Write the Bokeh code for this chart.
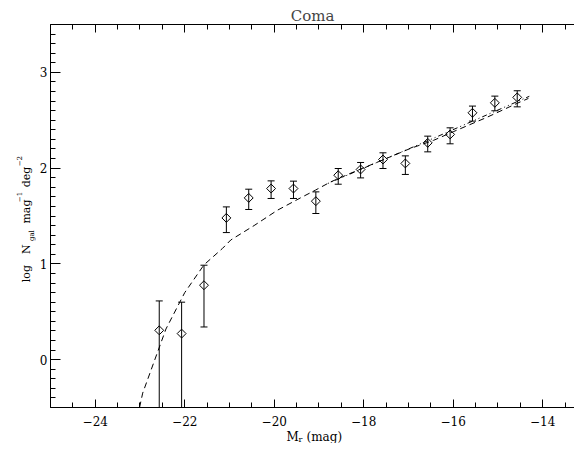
import numpy as np
from bokeh.plotting import figure
from bokeh.layouts import column, row
from bokeh.models import LinearAxis, Range1d, FixedTicker
from bokeh.core.properties import value
from bokeh.embed import file_html
from bokeh.resources import INLINE

# ---- data ----
mag = [-22.57, -22.07, -21.57, -21.07, -20.57, -20.07, -19.57, -19.07, -18.57,
       -18.07, -17.57, -17.07, -16.57, -16.07, -15.57, -15.07, -14.57]
logn = [0.306, 0.272, 0.777, 1.480, 1.689, 1.787, 1.787, 1.655, 1.926,
        1.986, 2.090, 2.049, 2.264, 2.352, 2.578, 2.682, 2.739]
logn_hi = [0.613, 0.600, 0.986, 1.595, 1.780, 1.867, 1.864, 1.752, 1.996,
           2.059, 2.160, 2.128, 2.334, 2.421, 2.648, 2.752, 2.808]
logn_lo = [float("-inf"), float("-inf"), 0.341, 1.327, 1.568, 1.683, 1.683, 1.526, 1.832,
           1.898, 1.996, 1.934, 2.170, 2.254, 2.491, 2.599, 2.640]

# dashed fit curve
fit_mag = [-23.01, -22.94, -22.42, -22.00, -21.57, -21.16, -20.97, -20.45, -19.93,
           -19.41, -19.08, -18.74, -18.22, -17.55, -16.96, -16.44, -16.00, -15.25,
           -14.58, -14.32]
fit_log = [-0.50, -0.35, 0.32, 0.70, 0.99, 1.16, 1.25, 1.40, 1.56,
           1.69, 1.77, 1.856, 1.961, 2.09, 2.205, 2.29, 2.38, 2.53,
           2.675, 2.728]
# dotted faint-end fit
pl_mag = [-18.80, -16.50, -14.30]
pl_log = [1.84, 2.30, 2.75]

x_ticks = [-24, -22, -20, -18, -16, -14]
y_ticks = [0, 1, 2, 3]
title_text = "Coma"

FONT = "DejaVu Serif"
X0, X1 = -25.0, -13.29
Y0, Y1 = -0.5, 3.5

W, H = 574, 443
YL_W = 36      # width of y-label strip
XL_H = 15      # height of x-label strip
MAIN_H = H - XL_H

def bare(fig):
    fig.outline_line_color = None
    fig.grid.visible = False
    fig.background_fill_color = "white"
    fig.border_fill_color = "white"
    return fig

p = bare(figure(width=W - YL_W, height=MAIN_H, output_backend="svg", toolbar_location=None,
                x_range=Range1d(X0, X1), y_range=Range1d(Y0, Y1),
                x_axis_type=None, y_axis_type=None,
                min_border_left=49 - YL_W, min_border_right=0,
                min_border_top=24, min_border_bottom=MAIN_H - 407))
p.title.text = title_text
p.title.text_font = FONT
p.title.text_font_size = "15px"
p.title.text_font_style = "normal"
p.title.align = "center"
p.title.standoff = 0
p.title.offset = 0

def style_axis(ax, major_in, minor_in, nminor, ticks, labels=True, line=True):
    ax.ticker = FixedTicker(ticks=ticks, minor_ticks=nminor)
    ax.major_tick_in = major_in
    ax.major_tick_out = 0
    ax.minor_tick_in = minor_in
    ax.minor_tick_out = 0
    ax.major_tick_line_color = "black"
    ax.minor_tick_line_color = "black"
    ax.axis_line_color = "black" if line else None
    ax.major_label_text_font = FONT
    ax.major_label_text_font_size = "12px"
    ax.major_label_text_color = "black"
    if not labels:
        ax.major_label_overrides = {t: "" for t in ticks}
        ax.major_label_text_font_size = "0px"
        ax.major_label_standoff = 0

xminor = list(np.arange(-25, -13.0, 0.5))
yminor = list(np.round(np.arange(-0.5, 3.51, 0.1), 2))

bx = LinearAxis()
style_axis(bx, 8, 5, xminor, x_ticks)
bx.major_label_overrides = {t: "\u2212" + str(abs(t)) for t in x_ticks}
bx.major_label_standoff = 8
p.add_layout(bx, "below")

tx = LinearAxis()
style_axis(tx, 8, 5, xminor, x_ticks, labels=False)
p.add_layout(tx, "above")

ly = LinearAxis()
style_axis(ly, 10, 5, yminor, y_ticks)
ly.major_label_standoff = 3
p.add_layout(ly, "left")

# curves
p.line(fit_mag, fit_log, line_color="black", line_width=1, line_dash="6 4")
p.line(pl_mag, pl_log, line_color="black", line_width=1, line_dash="1 3 1 3 5 3")

# error bars
lo_draw = [v if np.isfinite(v) else Y0 - 1 for v in logn_lo]
p.segment(mag, lo_draw, mag, logn_hi, line_color="black", line_width=1)
p.scatter(mag, logn_hi, marker="dash", size=7, line_color="black", line_width=1)
cap_x = [m for m, v in zip(mag, logn_lo) if np.isfinite(v)]
cap_y = [v for v in logn_lo if np.isfinite(v)]
p.scatter(cap_x, cap_y, marker="dash", size=7, line_color="black", line_width=1)
# diamonds
p.scatter(mag, logn, marker="square", angle=np.pi / 4, size=6.3,
          line_color="black", line_width=1, fill_color=None)

# ---- y-axis label strip (page-pixel coordinates, y measured upward) ----
yl = bare(figure(width=YL_W, height=MAIN_H, output_backend="svg", toolbar_location=None,
                 x_range=Range1d(0, YL_W), y_range=Range1d(0, MAIN_H),
                 x_axis_type=None, y_axis_type=None,
                 min_border_left=0, min_border_right=0, min_border_top=0, min_border_bottom=0))

def ytext(fig, txt, px, py, size):
    fig.text(x=[px], y=[MAIN_H - py], text=[txt], angle=np.pi / 2,
             text_font=value(FONT), text_font_size=value(size), text_color="black",
             text_align="left", text_baseline="alphabetic")

ytext(yl, "log", 26, 288, "11px")
ytext(yl, "N", 26, 256.5, "11px")
ytext(yl, "gal", 31.5, 242, "7px")
ytext(yl, "mag", 26, 222.5, "11px")
ytext(yl, "\u22121", 18.5, 198.5, "7px")
ytext(yl, "deg", 26, 182, "11px")
ytext(yl, "\u22122", 18.5, 158.5, "7px")

# ---- x-axis label strip (page-pixel coordinates) ----
xl = bare(figure(width=W, height=XL_H, output_backend="svg", toolbar_location=None,
                 x_range=Range1d(0, W), y_range=Range1d(0, XL_H),
                 x_axis_type=None, y_axis_type=None,
                 min_border_left=0, min_border_right=0, min_border_top=0, min_border_bottom=0))

def xtext(fig, txt, px, py, size):
    fig.text(x=[px], y=[H - py], text=[txt],
             text_font=value(FONT), text_font_size=value(size), text_color="black",
             text_align="left", text_baseline="alphabetic")

xtext(xl, "M", 286, 436, "12px")
xtext(xl, "r", 298, 438.5, "8px")
xtext(xl, "(mag)", 306, 436, "12px")

layout = column(row(yl, p, spacing=0), xl, spacing=0)
open("out.html", "w").write(file_html(layout, INLINE))
